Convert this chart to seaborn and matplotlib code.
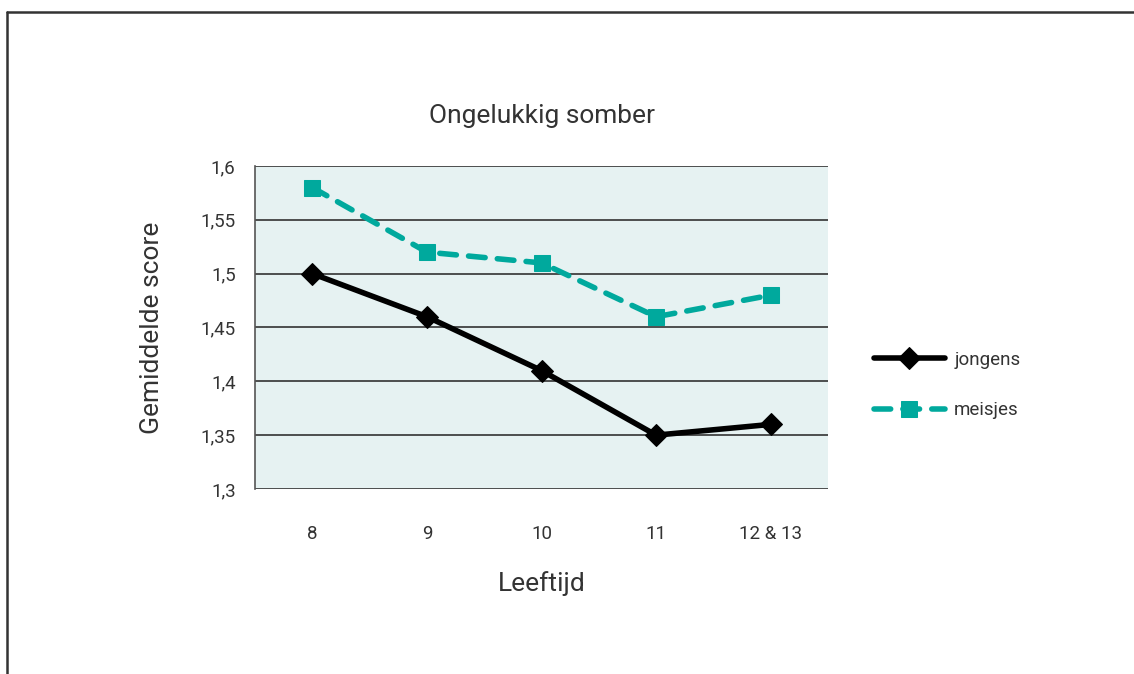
import numpy as np
import pandas as pd
import matplotlib
matplotlib.use("Agg")
import matplotlib.pyplot as plt
import seaborn as sns
from matplotlib.lines import Line2D

leeftijd = ['8', '9', '10', '11', '12 & 13']
jongens = [1.50, 1.46, 1.41, 1.35, 1.36]
meisjes = [1.58, 1.52, 1.51, 1.46, 1.48]
y_ticks = [1.3, 1.35, 1.4, 1.45, 1.5, 1.55, 1.6]
y_labels = ['1,3', '1,35', '1,4', '1,45', '1,5', '1,55', '1,6']

teal = '#00A99D'
text_col = '#333333'

sns.set_style('white')
plt.rcParams['font.family'] = ['Roboto', 'DejaVu Sans']

df = pd.DataFrame({
    'Leeftijd': leeftijd * 2,
    'score': jongens + meisjes,
    'groep': ['jongens'] * 5 + ['meisjes'] * 5,
})

fig = plt.figure(figsize=(11.34, 6.74), dpi=100)
ax = fig.add_axes([0.2249, 0.2745, 0.5053, 0.4792])
ax.set_facecolor('#E6F2F2')

sns.lineplot(data=df[df.groep == 'jongens'], x='Leeftijd', y='score', ax=ax,
             color='black', lw=4, marker='D', markersize=11,
             markeredgecolor='black', label='jongens', sort=False)
sns.lineplot(data=df[df.groep == 'meisjes'], x='Leeftijd', y='score', ax=ax,
             color=teal, lw=4, marker='s', markersize=12,
             markeredgecolor=teal, label='meisjes', sort=False)
ax.lines[1].set_dashes([3, 2.2])
ax.lines[1].set_dash_capstyle('round')

ax.set_xlim(-0.5, 4.5)
ax.set_ylim(1.3, 1.6)
ax.set_yticks(y_ticks)
ax.set_yticklabels(y_labels)
ax.yaxis.grid(True, color='#333333', lw=1.2)
ax.set_axisbelow(True)
for s in ['right', 'bottom', 'top']:
    ax.spines[s].set_visible(False)
ax.spines['left'].set_color('#555555')
ax.spines['left'].set_linewidth(1.2)
ax.tick_params(axis='both', length=0, labelsize=13.5, colors=text_col, pad=14)
ax.tick_params(axis='x', pad=26)

ax.set_title('Ongelukkig somber', fontsize=19, color=text_col, pad=31)
ax.set_xlabel('Leeftijd', fontsize=19, color=text_col, labelpad=20)
ax.set_ylabel('Gemiddelde score', fontsize=19, color=text_col, labelpad=26)

leg = ax.legend(loc='center left', bbox_to_anchor=(1.05, 0.322), frameon=False,
                fontsize=13.5, handlelength=3.8, labelspacing=1.75, handletextpad=0.5)
for t in leg.get_texts():
    t.set_color(text_col)

# outer frame (only top and left edge visible)
fig.add_artist(Line2D([7 / 1134, 7 / 1134], [0, 1 - 12 / 674], color='#333333', lw=1.8,
                      transform=fig.transFigure))
fig.add_artist(Line2D([7 / 1134, 1], [1 - 12 / 674, 1 - 12 / 674], color='#333333', lw=1.8,
                      transform=fig.transFigure))

fig.savefig('out.png', dpi=100)
